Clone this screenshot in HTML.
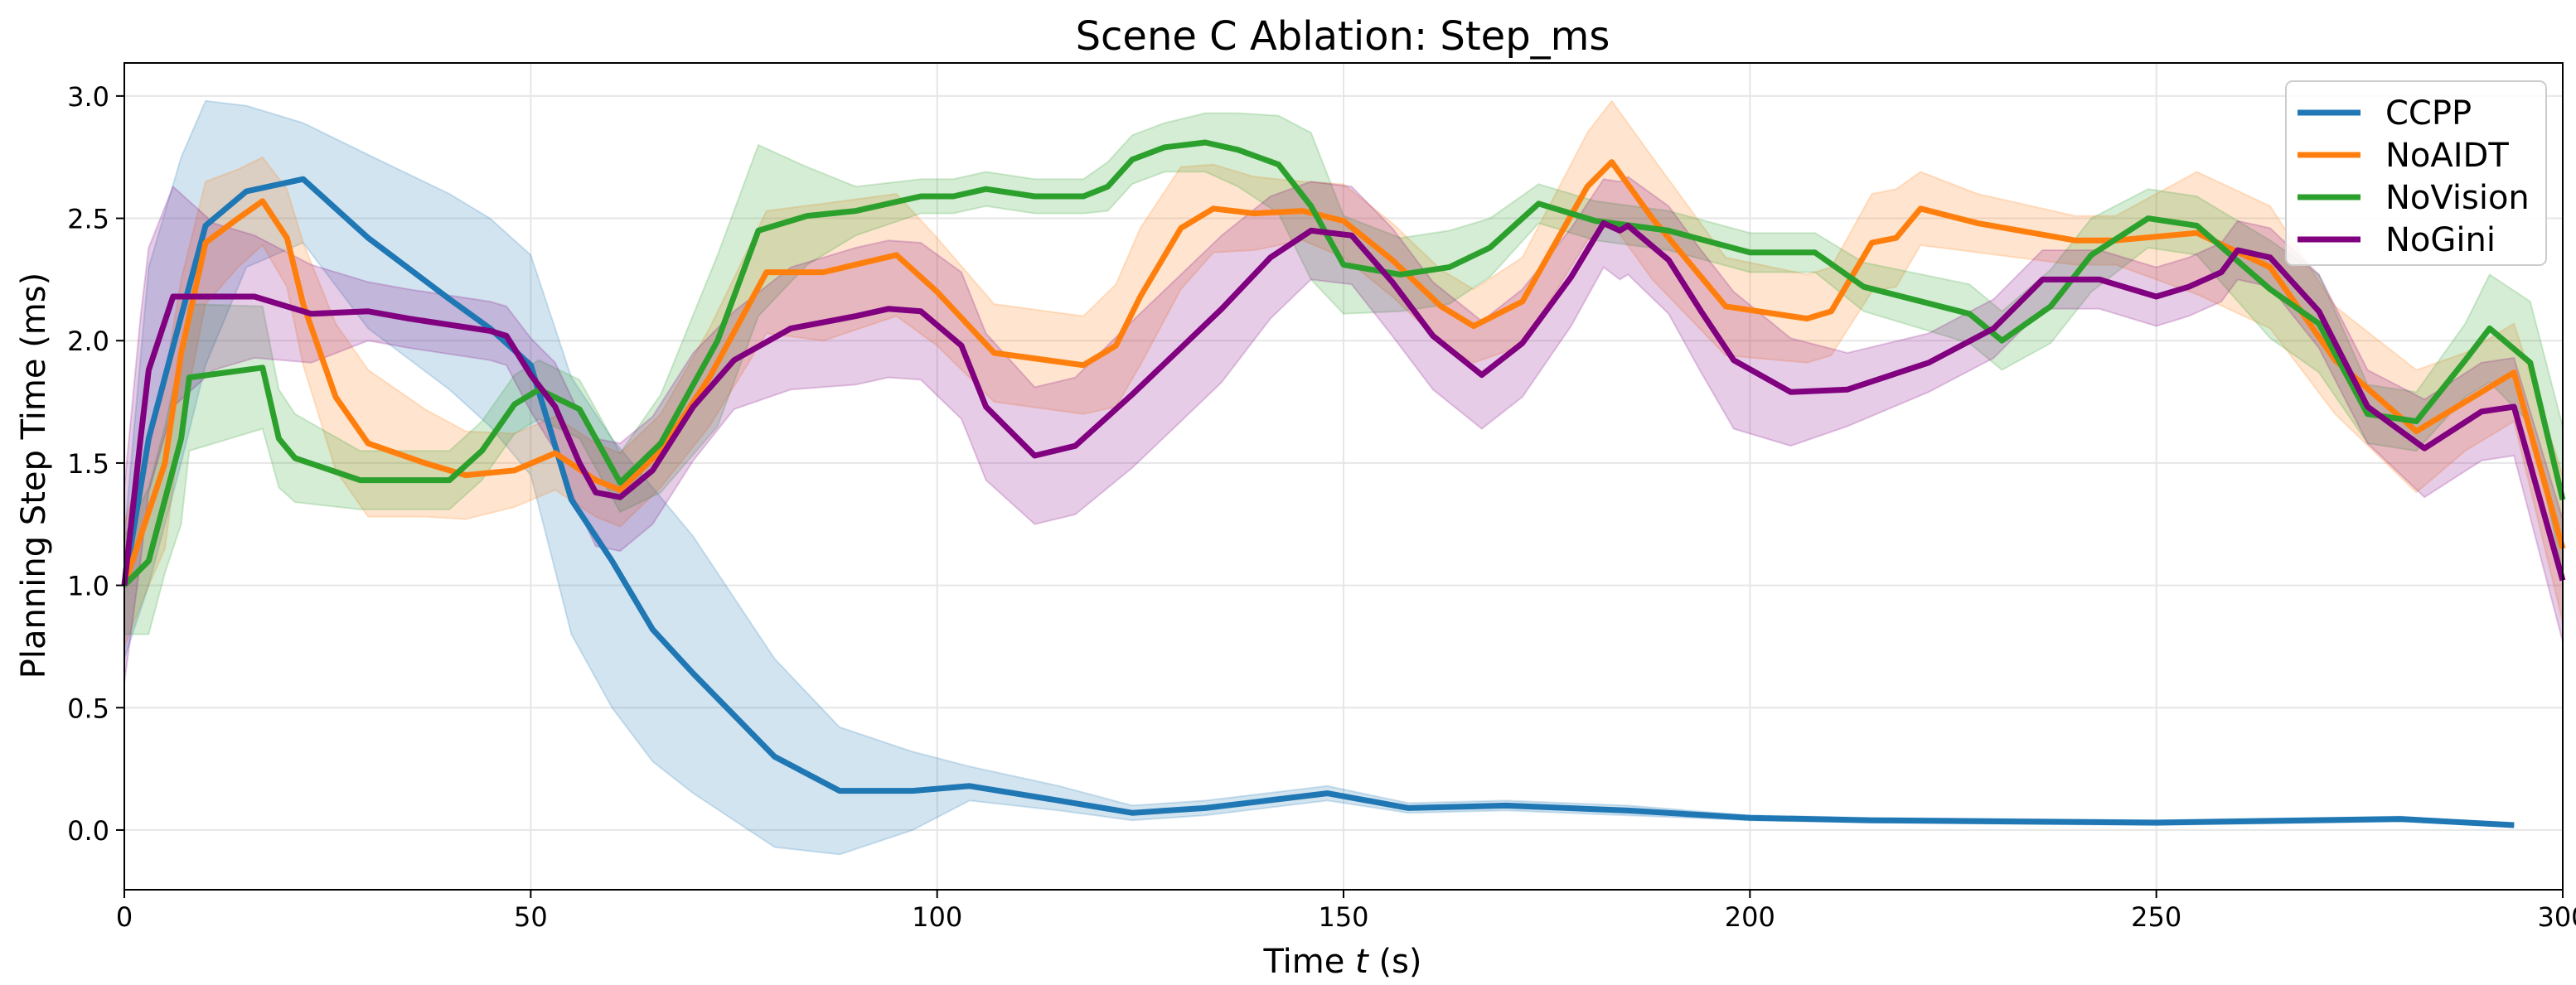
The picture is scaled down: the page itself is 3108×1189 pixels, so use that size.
<!DOCTYPE html>
<html><head><meta charset="utf-8"><style>
html,body{margin:0;padding:0;background:#fff;}
svg{display:block;font-family:"DejaVu Sans","Liberation Sans",sans-serif;}
</style></head><body>
<svg id="chart" width="3108" height="1189" viewBox="0 0 1554 594.5" xmlns="http://www.w3.org/2000/svg">
<rect x="0" y="0" width="1554" height="594.5" fill="#fff"/>
<text x="810" y="30" font-size="24" text-anchor="middle" fill="#000">Scene C Ablation: Step_ms</text>
<g id="grid"></g>
<g id="bands"></g>
<g id="lines"></g>
<rect x="75" y="38" width="1471" height="499" fill="none" stroke="#000" stroke-width="1"/>
<g id="ticks"></g>
<text x="810" y="587" font-size="20" text-anchor="middle">Time <tspan font-style="italic">t</tspan> (s)</text>
<text transform="translate(27,287) rotate(-90)" font-size="20" text-anchor="middle">Planning Step Time (ms)</text>
<g>
<rect x="1379" y="49" width="157" height="111" rx="4" fill="#fff" fill-opacity="0.85" stroke="#ccc"/>
<g id="legend-items"></g>
</g>
</svg>
<script>
const xTicks = [0, 50, 100, 150, 200, 250, 300];
const yTicks = [0.0, 0.5, 1.0, 1.5, 2.0, 2.5, 3.0];
const seriesNames = ["CCPP", "NoAIDT", "NoVision", "NoGini"];
const seriesColors = ["#1f77b4", "#ff7f0e", "#2ca02c", "#800080"];

const ccppT = [0,3,7,10,15,22,30,40,45,50,55,60,65,70,80,88,97,104,115,124,133,148,158,170,185,200,215,250,280,294];
const ccppMean = [1.0,1.6,2.1,2.47,2.61,2.66,2.42,2.17,2.05,1.9,1.35,1.1,0.82,0.64,0.3,0.16,0.16,0.18,0.12,0.07,0.09,0.15,0.09,0.1,0.08,0.05,0.04,0.03,0.045,0.02];
const ccppLo = [0.7,1.0,1.5,1.9,2.3,2.4,2.05,1.8,1.65,1.45,0.8,0.5,0.28,0.15,-0.07,-0.1,0.0,0.12,0.08,0.04,0.06,0.12,0.07,0.08,0.06,0.04,0.03,0.02,0.035,0.015];
const ccppHi = [1.2,2.3,2.75,2.98,2.96,2.89,2.76,2.6,2.5,2.35,1.85,1.6,1.4,1.2,0.7,0.42,0.32,0.26,0.18,0.1,0.12,0.18,0.11,0.12,0.1,0.06,0.05,0.04,0.055,0.025];

const noaidtT = [0,3,5,7,10,14,17,20,22,26,30,37,42,48,53,58,61,66,72,79,86,95,100,107,118,122,125,130,134,139,145,150,156,162,166,172,180,183,188,197,207,210,215,218,221,228,240,245,255,264,272,282,288,294,300];
const noaidtMean = [1.0,1.3,1.5,1.95,2.4,2.5,2.57,2.42,2.15,1.77,1.58,1.5,1.45,1.47,1.54,1.43,1.39,1.55,1.85,2.28,2.28,2.35,2.2,1.95,1.9,1.98,2.18,2.46,2.54,2.52,2.53,2.49,2.33,2.14,2.06,2.16,2.63,2.73,2.5,2.14,2.09,2.12,2.4,2.42,2.54,2.48,2.41,2.41,2.44,2.3,1.92,1.63,1.75,1.87,1.15];
const noaidtBand = [0.25,0.3,0.35,0.3,0.25,0.2,0.18,0.2,0.25,0.3,0.3,0.22,0.18,0.15,0.15,0.15,0.15,0.15,0.2,0.25,0.28,0.25,0.22,0.2,0.2,0.25,0.28,0.25,0.18,0.15,0.12,0.15,0.15,0.15,0.15,0.18,0.22,0.25,0.25,0.2,0.18,0.18,0.2,0.2,0.15,0.12,0.1,0.1,0.25,0.25,0.22,0.25,0.2,0.2,0.3];

const novisionT = [0,3,5,7,8,17,19,21,29,40,44,48,51,56,61,66,73,78,84,90,98,102,106,112,118,121,124,128,133,137,142,146,150,157,163,168,174,181,190,200,208,214,227,231,237,242,249,255,264,270,276,282,288,291,296,300];
const novisionMean = [1.0,1.1,1.35,1.6,1.85,1.89,1.6,1.52,1.43,1.43,1.55,1.74,1.8,1.72,1.42,1.58,2.0,2.45,2.51,2.53,2.59,2.59,2.62,2.59,2.59,2.63,2.74,2.79,2.81,2.78,2.72,2.55,2.31,2.27,2.3,2.38,2.56,2.49,2.45,2.36,2.36,2.22,2.11,2.0,2.14,2.35,2.5,2.47,2.21,2.07,1.7,1.67,1.92,2.05,1.91,1.35];
const novisionBand = [0.2,0.3,0.3,0.35,0.3,0.25,0.2,0.18,0.12,0.12,0.12,0.12,0.12,0.12,0.12,0.2,0.35,0.35,0.2,0.1,0.07,0.07,0.07,0.07,0.07,0.1,0.1,0.1,0.12,0.15,0.2,0.3,0.2,0.15,0.15,0.12,0.08,0.08,0.08,0.08,0.08,0.1,0.12,0.12,0.15,0.15,0.12,0.12,0.2,0.2,0.12,0.12,0.15,0.22,0.25,0.3];

const noginiT = [0,2,3,6,11,16,23,30,35,45,47,50,53,56,58,61,65,70,75,82,90,94,98,103,106,112,117,124,130,135,141,146,151,156,161,167,172,178,182,184,185,190,194,198,205,212,222,230,236,243,250,254,258,260,264,270,276,283,290,294,300];
const noginiMean = [1.0,1.6,1.88,2.18,2.18,2.18,2.11,2.12,2.09,2.04,2.02,1.86,1.73,1.5,1.38,1.36,1.47,1.73,1.92,2.05,2.1,2.13,2.12,1.98,1.73,1.53,1.57,1.78,1.97,2.13,2.34,2.45,2.43,2.24,2.02,1.86,1.99,2.26,2.48,2.45,2.47,2.33,2.12,1.92,1.79,1.8,1.91,2.05,2.25,2.25,2.18,2.22,2.28,2.37,2.34,2.12,1.73,1.56,1.71,1.73,1.02];
const noginiBand = [0.4,0.5,0.5,0.45,0.3,0.25,0.2,0.12,0.12,0.12,0.12,0.15,0.18,0.2,0.22,0.22,0.22,0.22,0.2,0.25,0.28,0.28,0.28,0.3,0.3,0.28,0.28,0.3,0.3,0.3,0.25,0.2,0.2,0.22,0.22,0.22,0.22,0.2,0.18,0.2,0.2,0.22,0.25,0.28,0.22,0.15,0.12,0.12,0.12,0.12,0.12,0.12,0.12,0.12,0.12,0.15,0.15,0.2,0.2,0.2,0.25];

const PL=75, PR=1546, PT=38, PB=537, XMIN=0, XMAX=300, YMIN=-0.244, YMAX=3.135;
function xs(t){return PL+(t-XMIN)/(XMAX-XMIN)*(PR-PL);}
function ys(v){return PB-(v-YMIN)/(YMAX-YMIN)*(PB-PT);}
const NS="http://www.w3.org/2000/svg";
function mk(tag,attrs,parent){const e=document.createElementNS(NS,tag);for(const k in attrs)e.setAttribute(k,attrs[k]);parent.appendChild(e);return e;}
const grid=document.getElementById('grid'), ticks=document.getElementById('ticks');
xTicks.forEach(t=>{
  const g=mk('line',{x1:xs(t),x2:xs(t),y1:PT,y2:PB,stroke:'#e6e6e6','stroke-width':1},grid);
  
  
  const tk=mk('line',{x1:xs(t),x2:xs(t),y1:PB,y2:PB+5,stroke:'#000','stroke-width':1},ticks);
  
  
  const lb=mk('text',{x:xs(t),y:PB+22,'font-size':16,'text-anchor':'middle'},ticks);
  lb.textContent=String(t);
  
  
});
yTicks.forEach(v=>{
  const g=mk('line',{x1:PL,x2:PR,y1:ys(v),y2:ys(v),stroke:'#e6e6e6','stroke-width':1},grid);
  
  
  const tk=mk('line',{x1:PL-5,x2:PL,y1:ys(v),y2:ys(v),stroke:'#000','stroke-width':1},ticks);
  
  
  const lb=mk('text',{x:PL-9,y:ys(v)+6,'font-size':16,'text-anchor':'end'},ticks);
  lb.textContent=v.toFixed(1);
  
  
});
const bands=document.getElementById('bands'), lines=document.getElementById('lines');
function drawSeries(idx,T,M,lo,hi){
  const n=Math.min(T.length,M.length);
  let up=[],dn=[],ln=[];
  for(let i=0;i<n;i++){
    up.push(xs(T[i]).toFixed(1)+','+ys(hi[i]).toFixed(1));
    dn.unshift(xs(T[i]).toFixed(1)+','+ys(lo[i]).toFixed(1));
    ln.push(xs(T[i]).toFixed(1)+','+ys(M[i]).toFixed(1));
  }
  const b=mk('polygon',{points:up.concat(dn).join(' '),fill:seriesColors[idx],'fill-opacity':0.2,stroke:seriesColors[idx],'stroke-opacity':0.2,'stroke-width':1},bands);
  
  
  const l=mk('polyline',{points:ln.join(' '),fill:'none',stroke:seriesColors[idx],'stroke-width':3.5,'stroke-linejoin':'round'},lines);
  
  
}
function bandArr(M,B,sign){return M.map((m,i)=>m+sign*(B[i]!==undefined?B[i]:B[B.length-1]));}
drawSeries(0,ccppT,ccppMean,ccppLo,ccppHi);
drawSeries(1,noaidtT,noaidtMean,bandArr(noaidtMean,noaidtBand,-1),bandArr(noaidtMean,noaidtBand,1));
drawSeries(2,novisionT,novisionMean,bandArr(novisionMean,novisionBand,-1),bandArr(novisionMean,novisionBand,1));
drawSeries(3,noginiT,noginiMean,bandArr(noginiMean,noginiBand,-1),bandArr(noginiMean,noginiBand,1));
const li=document.getElementById('legend-items');
seriesNames.forEach((nm,i)=>{
  const y=68+i*25.5;
  const l=mk('line',{x1:1386,x2:1424,y1:y,y2:y,stroke:seriesColors[i],'stroke-width':3.5},li);
  
  
  const t=mk('text',{x:1439,y:y+7,'font-size':20},li);
  t.textContent=nm;
  
  
});
</script>
</body></html>
